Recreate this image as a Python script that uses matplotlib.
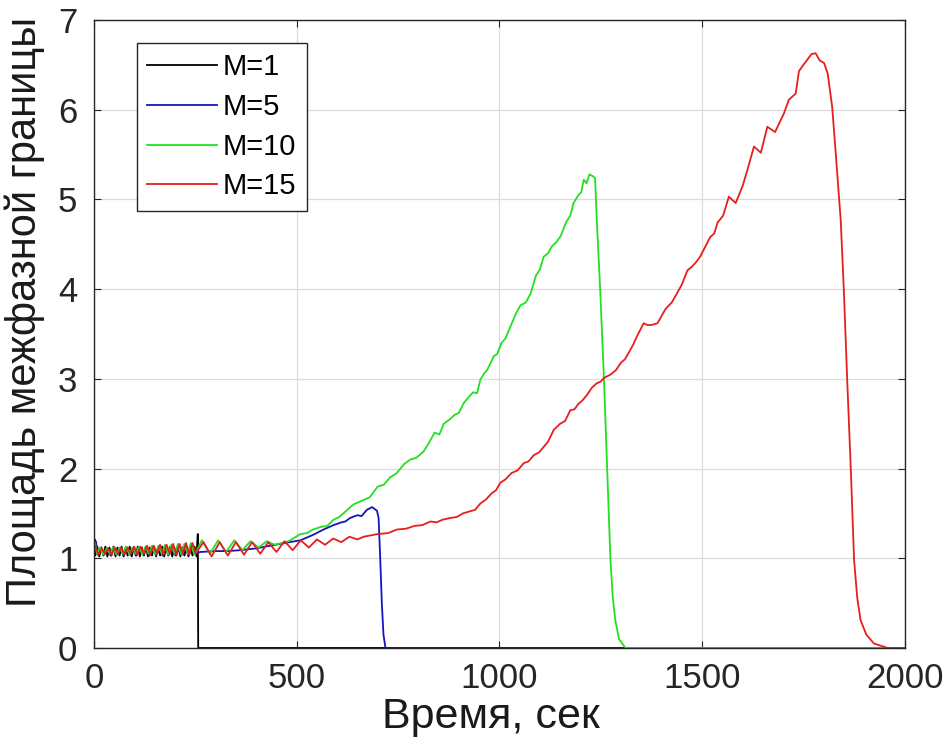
import matplotlib
matplotlib.use("Agg")
import matplotlib.pyplot as plt

# ------------------------------------------------
# Данные
# ------------------------------------------------
labels = ["M=1", "M=5", "M=10", "M=15"]
colors = ["#000000", "#1414c0", "#22e022", "#e61e1e"]

# M=1
t_m1 = [0, 3, 8, 13, 18, 23, 28, 33, 38, 43, 48, 53, 58, 63, 68, 73, 78, 83,
        88, 93, 98, 103, 108, 113, 118, 123, 128, 133, 138, 143, 148, 153, 158,
        163, 168, 173, 178, 183, 188, 193, 198, 203, 208, 213, 218, 223, 228,
        233, 238, 243, 248, 253, 256, 257, 2000]
a_m1 = [1.16, 1.03, 1.13, 1.02, 1.12, 1.03, 1.13, 1.02, 1.12, 1.03, 1.13, 1.02,
        1.12, 1.03, 1.13, 1.02, 1.12, 1.03, 1.13, 1.02, 1.12, 1.03, 1.13, 1.02,
        1.12, 1.03, 1.13, 1.02, 1.12, 1.03, 1.13, 1.02, 1.12, 1.03, 1.13, 1.02,
        1.12, 1.03, 1.13, 1.02, 1.12, 1.03, 1.13, 1.02, 1.12, 1.03, 1.13, 1.02,
        1.12, 1.03, 1.13, 1.02, 1.27, 0.0, 0.0]

# M=5
t_m5 = [0, 2, 5, 9, 17, 25, 33, 41, 49, 57, 65, 73, 81, 89, 97, 105, 113, 121,
        129, 137, 145, 153, 161, 169, 177, 185, 193, 201, 209, 217, 225, 233,
        241, 249, 262, 300, 330, 360, 400, 435, 470, 509, 540, 566, 591, 610,
        620, 632, 650, 660, 673, 686, 692, 698, 702, 706, 710, 714, 719, 2000]
a_m5 = [1.12, 1.21, 1.18, 1.04, 1.12, 1.04, 1.11, 1.03, 1.12, 1.04, 1.11, 1.03,
        1.12, 1.04, 1.11, 1.03, 1.12, 1.04, 1.11, 1.03, 1.12, 1.04, 1.11, 1.03,
        1.12, 1.04, 1.11, 1.03, 1.12, 1.04, 1.11, 1.03, 1.12, 1.05, 1.07, 1.08,
        1.08, 1.09, 1.11, 1.14, 1.17, 1.20, 1.26, 1.32, 1.37, 1.40, 1.41, 1.45,
        1.48, 1.47, 1.54, 1.57, 1.55, 1.53, 1.45, 1.00, 0.50, 0.15, 0.0, 0.0]

# M=10
t_m10 = [0, 3, 7, 15, 23, 31, 39, 47, 55, 63, 71, 79, 87, 95, 103, 111, 119,
         127, 135, 143, 151, 159, 167, 175, 183, 191, 199, 207, 215, 223, 231,
         239, 247, 255, 266, 286, 306, 326, 346, 366, 386, 406, 426, 446, 480,
         509, 525, 540, 560, 575, 591, 605, 620, 640, 665, 680, 700, 715, 730,
         747, 765, 780, 795, 813, 828, 840, 852, 863, 878, 890, 900, 912, 925,
         935, 945, 953, 962, 970, 986, 995, 1005, 1015, 1027, 1040, 1052, 1065,
         1077, 1090, 1100, 1109, 1120, 1130, 1140, 1151, 1165, 1175, 1183, 1195,
         1202, 1208, 1215, 1222, 1230, 1236, 1241, 1249, 1258, 1266, 1274, 1280,
         1286, 1295, 1311, 2000]
a_m10 = [1.19, 1.15, 1.05, 1.12, 1.04, 1.11, 1.05, 1.12, 1.04, 1.12, 1.05, 1.13,
         1.04, 1.12, 1.05, 1.13, 1.04, 1.13, 1.05, 1.14, 1.04, 1.14, 1.05, 1.15,
         1.04, 1.15, 1.05, 1.16, 1.04, 1.16, 1.05, 1.17, 1.04, 1.10, 1.20, 1.05,
         1.20, 1.07, 1.20, 1.09, 1.19, 1.12, 1.19, 1.15, 1.19, 1.27, 1.28, 1.32,
         1.35, 1.36, 1.43, 1.46, 1.52, 1.60, 1.65, 1.68, 1.80, 1.82, 1.90, 1.95,
         2.05, 2.10, 2.12, 2.19, 2.30, 2.40, 2.38, 2.50, 2.55, 2.60, 2.62, 2.73,
         2.80, 2.85, 2.84, 2.99, 3.06, 3.10, 3.25, 3.28, 3.40, 3.45, 3.58, 3.72,
         3.82, 3.85, 3.95, 4.15, 4.22, 4.36, 4.40, 4.48, 4.52, 4.59, 4.75, 4.82,
         4.96, 5.05, 5.08, 5.22, 5.18, 5.28, 5.26, 5.24, 4.70, 3.96, 2.99, 1.98,
         0.98, 0.55, 0.31, 0.10, 0.0, 0.0]

# M=15
t_m15 = [0, 1, 11, 19, 27, 35, 43, 51, 59, 67, 75, 83, 91, 99, 107, 115, 123,
         131, 139, 147, 155, 163, 171, 179, 187, 195, 203, 211, 219, 227, 235,
         243, 251, 258, 270, 290, 310, 330, 350, 370, 390, 410, 430, 450, 470,
         490, 510, 530, 550, 570, 590, 610, 630, 650, 665, 700, 725, 747, 770,
         790, 810, 830, 845, 860, 880, 895, 910, 925, 940, 953, 968, 980, 992,
         1002, 1015, 1030, 1045, 1060, 1072, 1085, 1098, 1109, 1120, 1134, 1150,
         1162, 1175, 1185, 1195, 1205, 1216, 1228, 1240, 1250, 1258, 1275, 1288,
         1300, 1310, 1320, 1330, 1340, 1356, 1365, 1375, 1390, 1400, 1410, 1425,
         1439, 1450, 1464, 1475, 1485, 1495, 1504, 1520, 1530, 1538, 1552, 1566,
         1583, 1600, 1612, 1628, 1645, 1661, 1680, 1702, 1714, 1731, 1739, 1750,
         1760, 1770, 1780, 1790, 1801, 1810, 1821, 1830, 1842, 1850, 1858, 1867,
         1875, 1883, 1891, 1905, 1924, 1958, 2000]
a_m15 = [1.18, 1.15, 1.04, 1.11, 1.05, 1.11, 1.04, 1.12, 1.05, 1.12, 1.04, 1.12,
         1.05, 1.13, 1.04, 1.13, 1.05, 1.14, 1.04, 1.14, 1.05, 1.15, 1.04, 1.15,
         1.05, 1.16, 1.04, 1.16, 1.05, 1.17, 1.04, 1.17, 1.05, 1.10, 1.18, 1.02,
         1.18, 1.03, 1.18, 1.04, 1.18, 1.05, 1.18, 1.07, 1.19, 1.09, 1.20, 1.12,
         1.21, 1.15, 1.22, 1.18, 1.24, 1.21, 1.24, 1.27, 1.28, 1.32, 1.33, 1.36,
         1.37, 1.41, 1.40, 1.43, 1.45, 1.46, 1.50, 1.52, 1.54, 1.61, 1.66, 1.72,
         1.76, 1.84, 1.88, 1.95, 1.98, 2.06, 2.08, 2.15, 2.18, 2.24, 2.30, 2.43,
         2.50, 2.53, 2.65, 2.66, 2.72, 2.76, 2.82, 2.90, 2.95, 2.97, 3.01, 3.05,
         3.10, 3.18, 3.22, 3.30, 3.38, 3.48, 3.62, 3.60, 3.60, 3.62, 3.70, 3.78,
         3.85, 3.96, 4.05, 4.21, 4.25, 4.30, 4.36, 4.44, 4.58, 4.62, 4.74, 4.82,
         5.03, 4.96, 5.15, 5.33, 5.59, 5.52, 5.81, 5.75, 5.96, 6.11, 6.18, 6.43,
         6.50, 6.56, 6.62, 6.63, 6.55, 6.52, 6.40, 6.03, 5.50, 4.77, 3.96, 2.99,
         1.98, 0.98, 0.55, 0.31, 0.15, 0.05, 0.0, 0.0]

series_t = [t_m1, t_m5, t_m10, t_m15]
series_a = [a_m1, a_m5, a_m10, a_m15]

x_ticks = [0, 500, 1000, 1500, 2000]
y_ticks = [0, 1, 2, 3, 4, 5, 6, 7]

# ------------------------------------------------
# График
# ------------------------------------------------
plt.rcParams['font.family'] = ['Liberation Sans', 'DejaVu Sans']

fig = plt.figure(figsize=(9.46, 7.46), dpi=100)
ax = fig.add_axes([0.0994, 0.1314, 0.857, 0.8418])

for t, a, c, lab in zip(series_t, series_a, colors, labels):
    ax.plot(t, a, color=c, linewidth=1.3, label=lab)

ax.set_xlim(0, 2000)
ax.set_ylim(0, 7)
ax.set_xticks(x_ticks)
ax.set_yticks(y_ticks)
ax.grid(True, color="#dcdcdc", linewidth=0.9)
ax.set_axisbelow(True)

ax.tick_params(direction="in", length=5, width=0.8, top=True, right=True,
               labelsize=25, colors="#262626")
ax.tick_params(axis="x", pad=10)
ax.tick_params(axis="y", pad=12)
for s in ax.spines.values():
    s.set_linewidth(1.0)
    s.set_color("#262626")

ax.set_xlabel("Время, сек", fontsize=31, color="#1a1a1a")
ax.set_ylabel("Площадь межфазной границы", fontsize=30, color="#1a1a1a")
ax.xaxis.set_label_coords(0.49, -0.078)
ax.yaxis.set_label_coords(-0.06, 0.535)

leg = ax.legend(loc="upper left", bbox_to_anchor=(0.053, 0.963), borderaxespad=0,
                fontsize=21, handlelength=2.4, labelspacing=0.4,
                handletextpad=0.2, borderpad=0.35, fancybox=False, framealpha=1)
leg.get_frame().set_edgecolor("#262626")
leg.get_frame().set_linewidth(1.0)

fig.savefig("out.png", dpi=100)
